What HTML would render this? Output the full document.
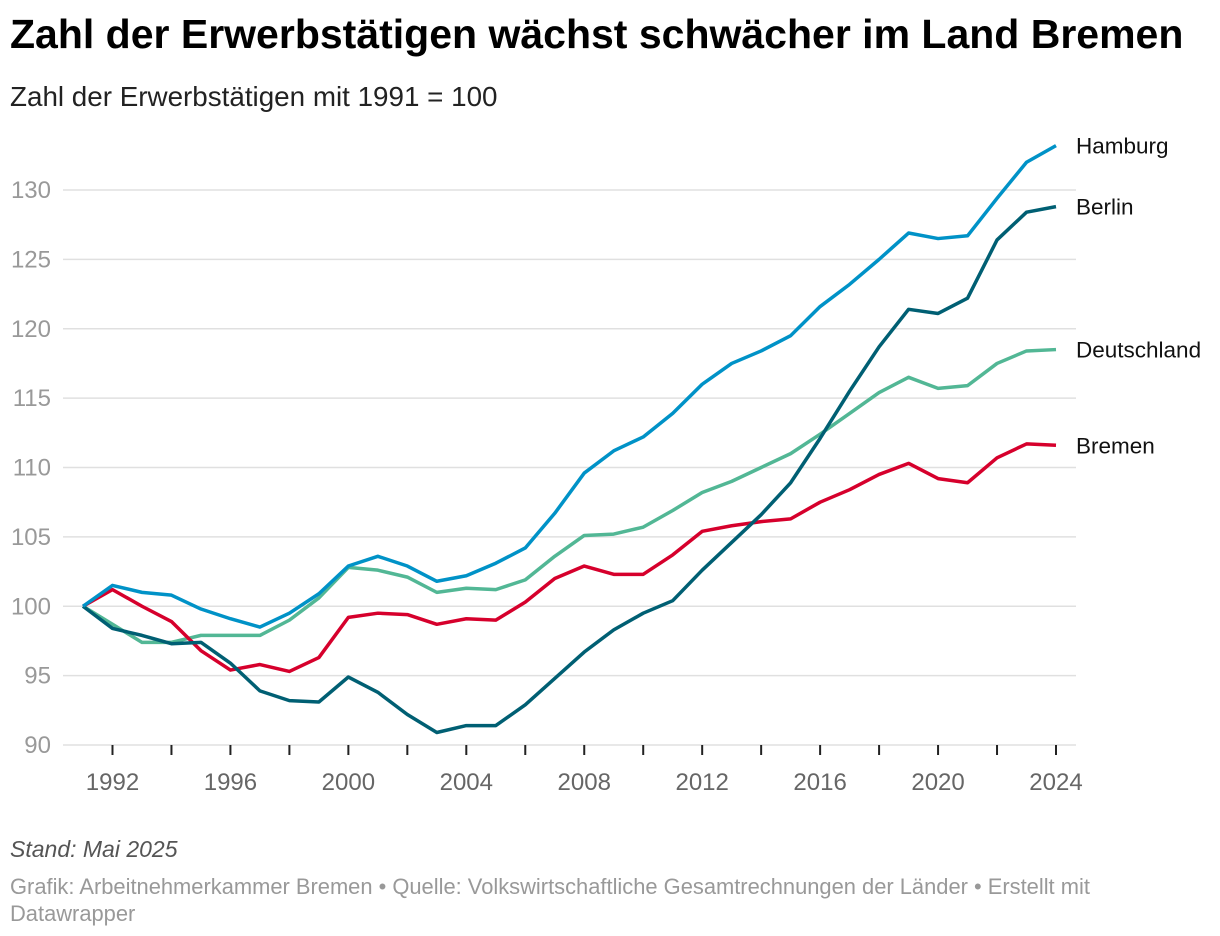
<!DOCTYPE html>
<html><head><meta charset="utf-8"><style>
body{margin:0;background:#fff;font-family:"Liberation Sans",sans-serif;width:1220px;height:936px;overflow:hidden;position:relative}
h1{position:absolute;left:10px;top:11px;margin:0;font-size:41px;font-weight:bold;letter-spacing:0;color:#000}
.sub{position:absolute;left:10px;top:81px;font-size:27.8px;color:#222}
.note{position:absolute;left:10px;top:836px;font-size:23px;font-style:italic;color:#555}
.src{position:absolute;left:10px;top:873px;font-size:21.9px;color:#999;line-height:27px;width:1100px}
svg{position:absolute;left:0;top:0}
</style></head><body>
<h1>Zahl der Erwerbstätigen wächst schwächer im Land Bremen</h1>
<div class="sub">Zahl der Erwerbstätigen mit 1991 = 100</div>
<svg id="c" width="1220" height="936"></svg>
<div class="note">Stand: Mai 2025</div>
<div class="src">Grafik: Arbeitnehmerkammer Bremen • Quelle: Volkswirtschaftliche Gesamtrechnungen der Länder • Erstellt mit Datawrapper</div>
<script>
const years=[];for(let y=1991;y<=2024;y++)years.push(y);
const yTicks=[90,95,100,105,110,115,120,125,130];
const xLabels=[1992,1996,2000,2004,2008,2012,2016,2020,2024];
const hamburg=[100,101.5,101.0,100.8,99.8,99.1,98.5,99.5,100.9,102.9,103.6,102.9,101.8,102.2,103.1,104.2,106.7,109.6,111.2,112.2,113.9,116.0,117.5,118.4,119.5,121.6,123.2,125.0,126.9,126.5,126.7,129.4,132.0,133.2];
const berlin=[100,98.4,97.9,97.3,97.4,95.9,93.9,93.2,93.1,94.9,93.8,92.2,90.9,91.4,91.4,92.9,94.8,96.7,98.3,99.5,100.4,102.6,104.6,106.6,108.9,112.1,115.5,118.7,121.4,121.1,122.2,126.4,128.4,128.8];
const deutschland=[100,98.7,97.4,97.4,97.9,97.9,97.9,99.0,100.6,102.8,102.6,102.1,101.0,101.3,101.2,101.9,103.6,105.1,105.2,105.7,106.9,108.2,109.0,110.0,111.0,112.4,113.9,115.4,116.5,115.7,115.9,117.5,118.4,118.5];
const bremen=[100,101.2,100.0,98.9,96.8,95.4,95.8,95.3,96.3,99.2,99.5,99.4,98.7,99.1,99.0,100.3,102.0,102.9,102.3,102.3,103.7,105.4,105.8,106.1,106.3,107.5,108.4,109.5,110.3,109.2,108.9,110.7,111.7,111.6];
const X=y=>83+(y-1991)*(1056-83)/33;
const Y=v=>745-(v-90)*(745-190)/40;
const svg=document.getElementById('c');const NS='http://www.w3.org/2000/svg';
function mk(t,a){const e=document.createElementNS(NS,t);for(const k in a)e.setAttribute(k,a[k]);svg.appendChild(e);return e;}
yTicks.forEach(v=>{
 const l=mk('line',{x1:63,x2:1076,y1:Y(v),y2:Y(v),stroke:'#e0e0e0','stroke-width':1.5});
 
 
 const t=mk('text',{x:51,y:Y(v)+8,'text-anchor':'end','font-size':24,fill:'#999','font-family':'Liberation Sans'});t.textContent=v;
 
 
});
for(let y=1992;y<=2024;y+=2){const l=mk('line',{x1:X(y),x2:X(y),y1:745,y2:755,stroke:'#222','stroke-width':2});
 
 }
xLabels.forEach(y=>{const t=mk('text',{x:X(y),y:790,'text-anchor':'middle','font-size':24,fill:'#666','font-family':'Liberation Sans'});t.textContent=y;
 
 });
const series=[['deutschland',deutschland,'#52b795','Deutschland'],['bremen',bremen,'#d6002c','Bremen'],['berlin',berlin,'#005f73','Berlin'],['hamburg',hamburg,'#0092c7','Hamburg']];
series.forEach(([id,d,c,lab])=>{
 const p=mk('polyline',{points:d.map((v,i)=>X(years[i])+','+Y(v)).join(' '),fill:'none',stroke:c,'stroke-width':3.5,'stroke-linejoin':'round'});
 
 
 const t=mk('text',{x:1076,y:Y(d[d.length-1])+8,'font-size':22.5,fill:'#111','font-family':'Liberation Sans'});t.textContent=lab;
 
 
});
</script>
</body></html>
